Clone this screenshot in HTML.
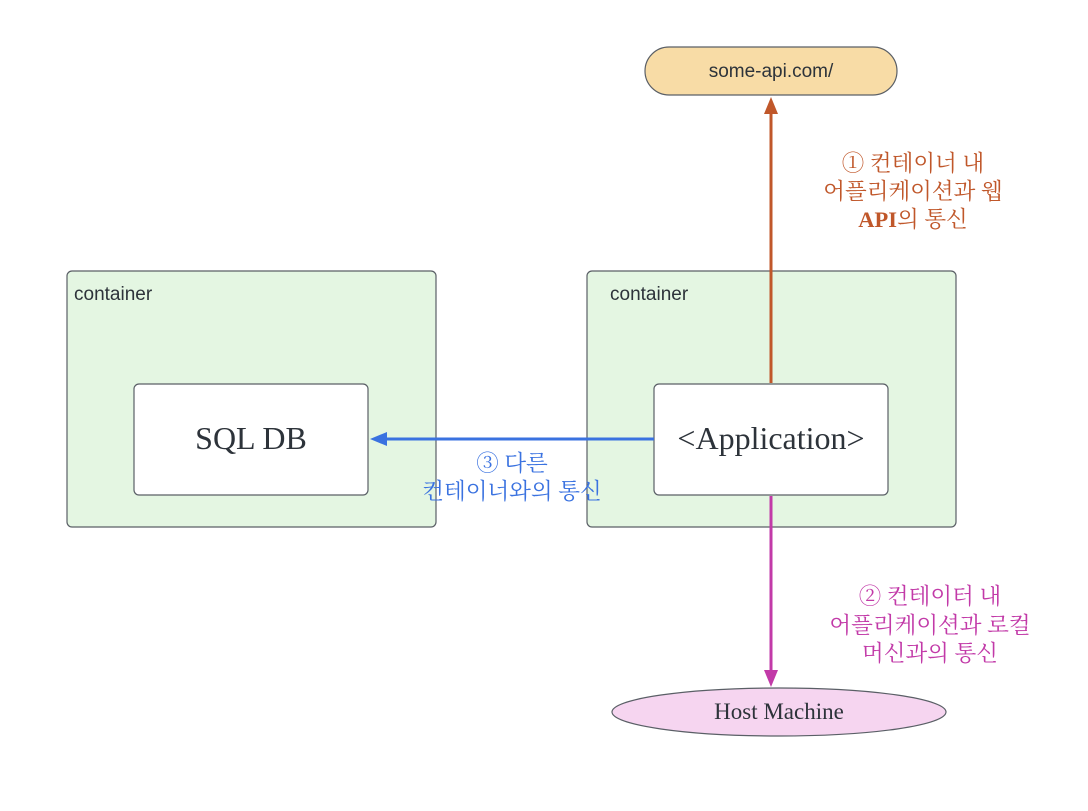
<!DOCTYPE html>
<html><head><meta charset="utf-8"><style>
body{margin:0;background:#fff}
svg text{font-family:"Liberation Serif","Noto Serif CJK SC",serif}
.k{font-family:"Liberation Sans","Noto Sans CJK KR",sans-serif}
.s{font-family:"Liberation Sans",sans-serif}
</style></head><body>
<svg width="1088" height="806" viewBox="0 0 1088 806" xmlns="http://www.w3.org/2000/svg">
<rect width="1088" height="806" fill="#fff"/>
<rect x="67" y="271" width="369" height="256" rx="5" fill="#e4f6e2" stroke="#5a5f66" stroke-width="1.2"/>
<rect x="587" y="271" width="369" height="256" rx="5" fill="#e4f6e2" stroke="#5a5f66" stroke-width="1.2"/>
<text class="s" x="74" y="300" font-size="19" fill="#2d333a">container</text>
<text class="s" x="610" y="300" font-size="19" fill="#2d333a">container</text>
<rect x="134" y="384" width="234" height="111" rx="5" fill="#fff" stroke="#5a5f66" stroke-width="1.2"/>
<rect x="654" y="384" width="234" height="111" rx="5" fill="#fff" stroke="#5a5f66" stroke-width="1.2"/>
<text x="251" y="449" font-size="32" text-anchor="middle" fill="#2d333a">SQL DB</text>
<text x="771" y="449" font-size="32" text-anchor="middle" fill="#2d333a">&lt;Application&gt;</text>
<rect x="645" y="47" width="252" height="48" rx="24" fill="#f8dca6" stroke="#5a5f66" stroke-width="1.2"/>
<text class="s" x="771" y="77" font-size="19" text-anchor="middle" fill="#2d333a">some-api.com/</text>
<ellipse cx="779" cy="712" rx="167" ry="24" fill="#f6d5f0" stroke="#5a5f66" stroke-width="1.2"/>
<text x="779" y="719" font-size="23" text-anchor="middle" fill="#2d333a">Host Machine</text>
<line x1="771" y1="383" x2="771" y2="112" stroke="#c0572a" stroke-width="3"/>
<polygon points="771,97 764,114 778,114" fill="#c0572a"/>
<line x1="771" y1="496" x2="771" y2="670" stroke="#c23aa8" stroke-width="3"/>
<polygon points="771,687 764,670 778,670" fill="#c23aa8"/>
<line x1="654" y1="439" x2="386" y2="439" stroke="#3a72e0" stroke-width="3"/>
<polygon points="370,439 387,432 387,446" fill="#3a72e0"/>
<g class="k" font-size="22.5" text-anchor="middle">
<text x="913" y="171" fill="#c0572a">① 컨테이너 내</text>
<text x="913" y="199" fill="#c0572a">어플리케이션과 웹</text>
<text x="913" y="227" fill="#c0572a"><tspan font-weight="bold" font-family="Liberation Serif">API</tspan>의 통신</text>
<text x="930" y="604" fill="#c23aa8">② 컨테이터 내</text>
<text x="930" y="633" fill="#c23aa8">어플리케이션과 로컬</text>
<text x="930" y="661" fill="#c23aa8">머신과의 통신</text>
<text x="512" y="471" fill="#3a72e0">③ 다른</text>
<text x="512" y="499" fill="#3a72e0">컨테이너와의 통신</text>
</g>
</svg>
</body></html>
